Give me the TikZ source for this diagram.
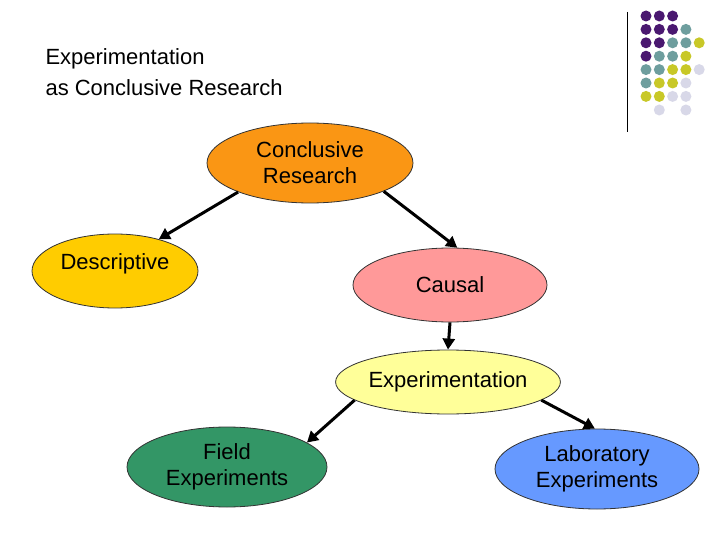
\documentclass[tikz,border=0pt]{standalone}
\usepackage{fontspec}
\setmainfont{Liberation Sans}
\usetikzlibrary{shapes.geometric,arrows.meta}
\definecolor{dP}{HTML}{4A1870}
\definecolor{dT}{HTML}{6E9E9E}
\definecolor{dY}{HTML}{C8C828}
\definecolor{dL}{HTML}{D8D8E8}
\begin{document}
\begin{tikzpicture}[x=1pt,y=-1pt,
  el/.style={ellipse,draw=black!80,line width=0.8pt,inner sep=0pt,align=center,font=\fontsize{22}{26}\selectfont},
  ar/.style={line width=3pt,-{Triangle[length=11pt,width=12pt]}},
  dot/.style={circle,inner sep=0pt,minimum size=11pt}]
\useasboundingbox[fill=white] (0,0) rectangle (720,540);
\node[anchor=north west,align=left,font=\fontsize{22}{31}\selectfont] (title) at (42,45) {Experimentation\\as Conclusive Research};
\draw[line width=0.8pt] (627,12) -- (627,132);
\foreach \r/\cols in {1/{P,P,P},2/{P,P,P,T},3/{P,P,T,T,Y},4/{P,T,T,Y},5/{T,T,Y,Y,L},6/{T,Y,Y,L},7/{Y,Y,L,L}}{
  \foreach \c [count=\i] in \cols {
    \node[dot,fill=d\c] (d\r\i) at ({646+13.3*(\i-1)},{16+13.4*(\r-1)}) {};
  }
}
\node[dot,fill=dL] (d82) at (659.3,110) {};
\node[dot,fill=dL] (d84) at (685.9,110) {};
\node[el,fill={rgb,255:red,250;green,150;blue,20},minimum width=206pt,minimum height=80pt] (cr) at (310,163) {Conclusive\\Research};
\node[el,fill={rgb,255:red,255;green,204;blue,0},minimum width=166pt,minimum height=74pt,text depth=18pt] (de) at (115,271) {Descriptive};
\node[el,fill={rgb,255:red,255;green,153;blue,153},minimum width=194pt,minimum height=74pt] (ca) at (450,285) {Causal};
\node[el,fill={rgb,255:red,255;green,255;blue,153},minimum width=224pt,minimum height=64pt] (ex) at (448,382) {Experimentation};
\node[el,fill={rgb,255:red,51;green,150;blue,102},minimum width=200pt,minimum height=80pt] (fe) at (227,467) {Field\\Experiments};
\node[el,fill={rgb,255:red,102;green,153;blue,255},minimum width=204pt,minimum height=80pt] (le) at (597,469) {Laboratory\\Experiments};
\draw[ar] (cr.202) -- (de.36);
\draw[ar] (cr.339) -- (ca.79);
\draw[ar] (ca.south) -- (ex.north);
\draw[ar] (ex.191) -- (fe.17);
\draw[ar] (ex.349) -- (le.93);
\end{tikzpicture}
\end{document}
